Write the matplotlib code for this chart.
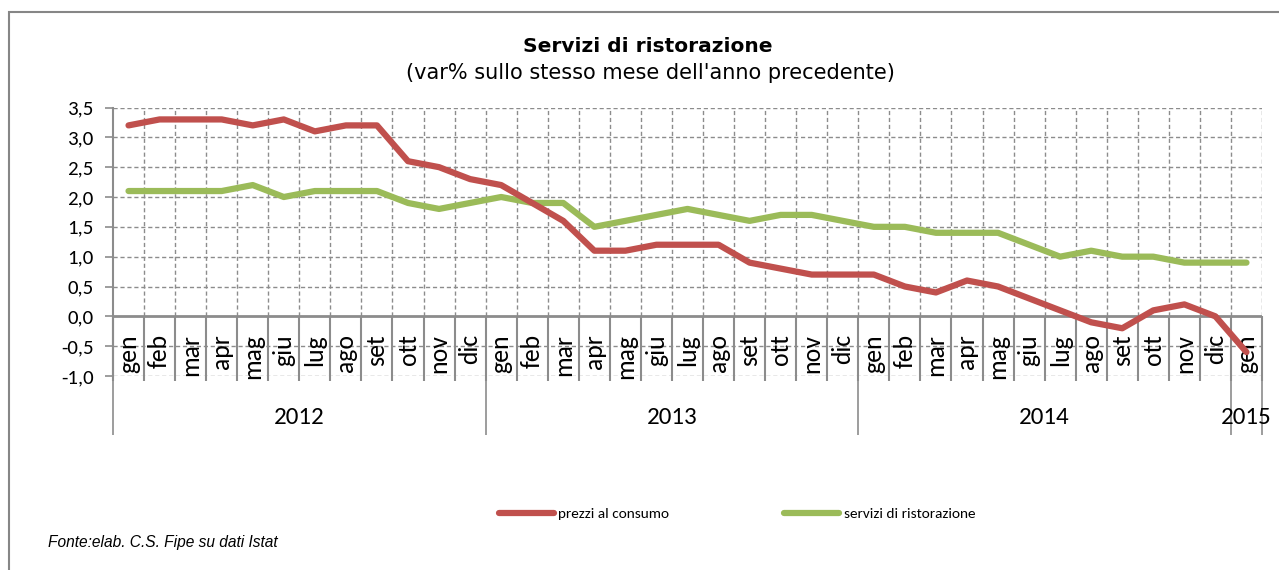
import matplotlib
matplotlib.use("Agg")
import matplotlib.pyplot as plt
from matplotlib import font_manager
from matplotlib.lines import Line2D


def pick_font(*names):
    avail = {f.name for f in font_manager.fontManager.ttflist}
    for n in names:
        if n in avail:
            return n
    return "DejaVu Sans"


NARROW = pick_font("Carlito", "Liberation Sans Narrow", "Open Sans")
TITLE_FONT = pick_font("DejaVu Sans")
SRC_FONT = pick_font("Liberation Sans", "DejaVu Sans")

# --- data -------------------------------------------------------------
months = ["gen", "feb", "mar", "apr", "mag", "giu", "lug", "ago", "set", "ott", "nov", "dic"] * 3 + ["gen"]
years = ["2012", "2013", "2014", "2015"]
year_sizes = [12, 12, 12, 1]

prezzi_al_consumo = [
    3.2, 3.3, 3.3, 3.3, 3.2, 3.3, 3.1, 3.2, 3.2, 2.6, 2.5, 2.3,
    2.2, 1.9, 1.6, 1.1, 1.1, 1.2, 1.2, 1.2, 0.9, 0.8, 0.7, 0.7,
    0.7, 0.5, 0.4, 0.6, 0.5, 0.3, 0.1, -0.1, -0.2, 0.1, 0.2, 0.0,
    -0.6,
]
servizi_ristorazione = [
    2.1, 2.1, 2.1, 2.1, 2.2, 2.0, 2.1, 2.1, 2.1, 1.9, 1.8, 1.9,
    2.0, 1.9, 1.9, 1.5, 1.6, 1.7, 1.8, 1.7, 1.6, 1.7, 1.7, 1.6,
    1.5, 1.5, 1.4, 1.4, 1.4, 1.2, 1.0, 1.1, 1.0, 1.0, 0.9, 0.9,
    0.9,
]
yticks = [-1.0, -0.5, 0.0, 0.5, 1.0, 1.5, 2.0, 2.5, 3.0, 3.5]

RED = "#c0504d"
GREEN = "#9bbb59"
GRID = "#8c8c8c"

W, H = 1279, 570
fig = plt.figure(figsize=(W / 100, H / 100), dpi=100)

# outer chart border (runs off the right and bottom edges)
fig.patches.append(plt.Rectangle((9 / W, -0.05), 1.2, 1 - 12 / H + 0.05,
                                 transform=fig.transFigure, fill=False,
                                 edgecolor="#868686", linewidth=1.5))

left, right, top, bottom = 113, 1262, 107.5, 376
ax = fig.add_axes([left / W, 1 - bottom / H, (right - left) / W, (bottom - top) / H])

n = len(months)
x = [i + 0.5 for i in range(n)]
ax.set_xlim(0, n)
ax.set_ylim(-1.0, 3.5)

# grid
dash = (0, (3, 2))
for yv in yticks:
    if yv != 0:
        ax.hlines(yv, 0, n, colors=GRID, linewidth=1, linestyles=dash, zorder=1)
ax.vlines(range(1, n + 1), 0, 3.5, colors=GRID, linewidth=1, linestyles=dash, zorder=1)

# category separators below the axis
px = 4.5 / (bottom - top)  # data units per pixel
ax.vlines(range(0, n + 1), -1.0 - 5 * px, 0, colors=GRID, linewidth=1.5, zorder=2, clip_on=False)
bounds = [0]
for s in year_sizes:
    bounds.append(bounds[-1] + s)
ax.vlines(bounds, -(435 - 316) * px, 0, colors=GRID, linewidth=1.2, zorder=2, clip_on=False)

ax.axhline(0, color=GRID, linewidth=2, zorder=2)

ax.plot(x, prezzi_al_consumo, color=RED, linewidth=4.5, solid_capstyle="round", zorder=4)
ax.plot(x, servizi_ristorazione, color=GREEN, linewidth=4.5, solid_capstyle="round", zorder=3)

for s in ["top", "right", "bottom"]:
    ax.spines[s].set_visible(False)
ax.spines["left"].set_color(GRID)
ax.spines["left"].set_linewidth(1.5)

ax.set_xticks([])
ax.set_yticks(yticks)
ax.set_yticklabels([f"{v:.1f}".replace(".", ",") for v in yticks], family=NARROW, fontsize=15)
ax.tick_params(axis="y", length=6, width=1.2, color=GRID, pad=8)

for xi, m in zip(x, months):
    ax.text(xi, -(334 - 316) * px, m, rotation=90, ha="center", va="top",
            family=NARROW, fontsize=18.5, clip_on=False)

for i, yr in enumerate(years):
    ax.text((bounds[i] + bounds[i + 1]) / 2, -(417 - 316) * px, yr, ha="center", va="center",
            family=NARROW, fontsize=18, clip_on=False)

fig.text(648 / W, 1 - 46 / H, "Servizi di ristorazione", ha="center", va="center",
         family=TITLE_FONT, fontsize=14.5, fontweight="bold")
fig.text(650 / W, 1 - 73 / H, "(var% sullo stesso mese dell'anno precedente)", ha="center", va="center",
         family=TITLE_FONT, fontsize=15)

handles = [Line2D([], [], color=RED, linewidth=4.5, solid_capstyle="round"),
           Line2D([], [], color=GREEN, linewidth=4.5, solid_capstyle="round")]
fig.legend(handles, ["prezzi al consumo", "servizi di ristorazione"], loc="center",
           bbox_to_anchor=(737 / W, 1 - 514 / H), ncol=2, frameon=False,
           prop={"family": NARROW, "size": 11}, handlelength=3.6, handletextpad=0.3,
           columnspacing=7.5)

fig.text(48 / W, 1 - 543 / H, "Fonte:elab. C.S. Fipe su dati Istat", ha="left", va="center",
         family=SRC_FONT, fontsize=11.2, style="italic")

fig.savefig("out.png", dpi=100)
